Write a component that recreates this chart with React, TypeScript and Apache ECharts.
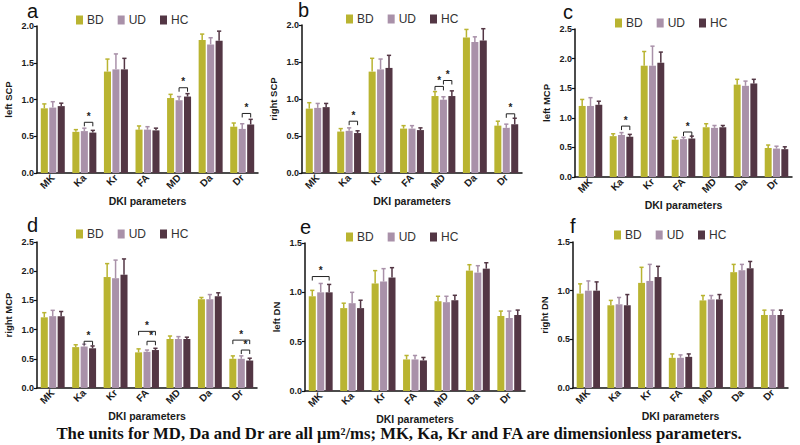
import React, { useEffect, useRef } from "react";
import * as echarts from "echarts";

const categories = ["MK", "Ka", "Kr", "FA", "MD", "Da", "Dr"];
const groups = ["BD", "UD", "HC"];
const yTicksMax = [2.0, 2.0, 2.5, 2.5, 1.5, 1.5];
const yNames = ["left SCP", "right SCP", "left MCP", "right MCP", "left DN", "right DN"];
const panelLetters = ["a", "b", "c", "d", "e", "f"];

// panel a: left SCP
const aBD = [0.88, 0.56, 1.38, 0.59, 1.02, 1.81, 0.63];
const aBDerr = [0.06, 0.03, 0.17, 0.05, 0.05, 0.08, 0.05];
const aUD = [0.89, 0.57, 1.41, 0.59, 0.99, 1.75, 0.6];
const aUDerr = [0.08, 0.04, 0.21, 0.04, 0.05, 0.09, 0.07];
const aHC = [0.91, 0.55, 1.41, 0.58, 1.04, 1.8, 0.66];
const aHCerr = [0.04, 0.03, 0.15, 0.03, 0.04, 0.13, 0.07];
const aSig = [[1, 1, 2, 0.69], [4, 1, 2, 1.16], [6, 1, 2, 0.81]];

// panel b: right SCP
const bBD = [0.87, 0.56, 1.37, 0.6, 1.04, 1.83, 0.64];
const bBDerr = [0.08, 0.04, 0.18, 0.04, 0.06, 0.11, 0.06];
const bUD = [0.88, 0.57, 1.4, 0.6, 0.99, 1.77, 0.61];
const bUDerr = [0.06, 0.04, 0.14, 0.04, 0.04, 0.07, 0.05];
const bHC = [0.89, 0.54, 1.42, 0.58, 1.04, 1.79, 0.66];
const bHCerr = [0.05, 0.03, 0.17, 0.03, 0.07, 0.16, 0.08];
const bSig = [[1, 1, 2, 0.7], [4, 0, 1, 1.17], [4, 1, 2, 1.25], [6, 1, 2, 0.8]];

// panel c: left MCP
const cBD = [1.2, 0.69, 1.88, 0.63, 0.84, 1.56, 0.49];
const cBDerr = [0.11, 0.04, 0.24, 0.04, 0.06, 0.09, 0.05];
const cUD = [1.2, 0.71, 1.88, 0.64, 0.83, 1.54, 0.48];
const cUDerr = [0.14, 0.04, 0.33, 0.03, 0.04, 0.08, 0.04];
const cHC = [1.22, 0.68, 1.93, 0.65, 0.84, 1.58, 0.47];
const cHCerr = [0.06, 0.04, 0.18, 0.04, 0.03, 0.07, 0.04];
const cSig = [[1, 1, 2, 0.86], [3, 1, 2, 0.76]];

// panel d: right MCP
const dBD = [1.21, 0.7, 1.9, 0.61, 0.84, 1.52, 0.5];
const dBDerr = [0.08, 0.04, 0.23, 0.06, 0.05, 0.03, 0.05];
const dUD = [1.23, 0.71, 1.88, 0.62, 0.84, 1.52, 0.5];
const dUDerr = [0.1, 0.04, 0.31, 0.03, 0.04, 0.08, 0.05];
const dHC = [1.23, 0.68, 1.94, 0.65, 0.84, 1.57, 0.47];
const dHCerr = [0.08, 0.04, 0.27, 0.03, 0.03, 0.06, 0.04];
const dSig = [[1, 1, 2, 0.8], [3, 0, 2, 0.97], [3, 1, 2, 0.8], [6, 0, 2, 0.82], [6, 1, 2, 0.65]];

// panel e: left DN
const eBD = [0.96, 0.84, 1.09, 0.32, 0.91, 1.22, 0.76];
const eBDerr = [0.06, 0.05, 0.13, 0.04, 0.05, 0.06, 0.05];
const eUD = [1.0, 0.89, 1.11, 0.32, 0.9, 1.2, 0.74];
const eUDerr = [0.09, 0.11, 0.13, 0.04, 0.06, 0.07, 0.07];
const eHC = [1.0, 0.84, 1.15, 0.31, 0.92, 1.24, 0.77];
const eHCerr = [0.08, 0.08, 0.1, 0.03, 0.05, 0.06, 0.05];
const eSig = [[0, 0, 2, 1.16]];

// panel f: right DN
const fBD = [0.97, 0.85, 1.08, 0.31, 0.9, 1.19, 0.75];
const fBDerr = [0.1, 0.05, 0.16, 0.04, 0.05, 0.08, 0.05];
const fUD = [1.0, 0.86, 1.1, 0.31, 0.91, 1.21, 0.75];
const fUDerr = [0.1, 0.07, 0.17, 0.03, 0.04, 0.06, 0.05];
const fHC = [1.0, 0.85, 1.14, 0.32, 0.91, 1.23, 0.75];
const fHCerr = [0.09, 0.11, 0.11, 0.03, 0.05, 0.07, 0.05];
const fSig: number[][] = [];

const caption =
  "The units for MD, Da and Dr are all \u03bcm\u00b2/ms; MK, Ka, Kr and FA are dimensionless parameters.";

const COLORS = ["#b9b431", "#a991a9", "#533644"];
const CAT_GAP = 0.24;
const BAR_GAP = 0.2;
const FONT = "'Liberation Sans', Arial, sans-serif";

const panels = [
  { vals: [aBD, aUD, aHC], errs: [aBDerr, aUDerr, aHCerr], sig: aSig },
  { vals: [bBD, bUD, bHC], errs: [bBDerr, bUDerr, bHCerr], sig: bSig },
  { vals: [cBD, cUD, cHC], errs: [cBDerr, cUDerr, cHCerr], sig: cSig },
  { vals: [dBD, dUD, dHC], errs: [dBDerr, dUDerr, dHCerr], sig: dSig },
  { vals: [eBD, eUD, eHC], errs: [eBDerr, eUDerr, eHCerr], sig: eSig },
  { vals: [fBD, fUD, fHC], errs: [fBDerr, fUDerr, fHCerr], sig: fSig },
];

// layout (pixels)
const gridBoxes = [
  { left: 37, top: 26, width: 221, height: 147 },
  { left: 302, top: 25, width: 220, height: 148 },
  { left: 575, top: 29, width: 217, height: 148 },
  { left: 37, top: 242, width: 220, height: 146 },
  { left: 305, top: 243, width: 220, height: 148 },
  { left: 573, top: 242, width: 215, height: 146 },
];
const legendPos = [
  { left: 71, top: 9 },
  { left: 341, top: 8 },
  { left: 610, top: 12 },
  { left: 71, top: 223 },
  { left: 341, top: 226 },
  { left: 609, top: 224 },
];
const letterPos = [
  { x: 27, y: 13 },
  { x: 298, y: 12 },
  { x: 563, y: 14 },
  { x: 27, y: 227 },
  { x: 300, y: 229 },
  { x: 570, y: 228 },
];

function barGeom(api: any) {
  const band = api.size([1, 0])[0];
  const w = (band * (1 - CAT_GAP)) / (3 + 2 * BAR_GAP);
  return { w, step: w * (1 + BAR_GAP) };
}

export default function App() {
  const ref = useRef<HTMLDivElement>(null);
  useEffect(() => {
    document.body.style.margin = "0";
    const chart = echarts.init(ref.current!, null, { renderer: "svg" });
    const grid: any[] = [];
    const xAxis: any[] = [];
    const yAxis: any[] = [];
    const series: any[] = [];
    const legend: any[] = [];
    const graphic: any[] = [];

    panels.forEach((p, i) => {
      grid.push({ ...gridBoxes[i], containLabel: false });
      xAxis.push({
        type: "category",
        gridIndex: i,
        data: categories,
        name: "DKI parameters",
        nameLocation: "middle",
        nameGap: 22,
        nameTextStyle: { fontFamily: FONT, fontWeight: "bold", fontSize: 10.5, color: "#1a1a1a" },
        axisLine: { lineStyle: { color: "#111", width: 1.5 } },
        axisTick: { alignWithLabel: true, length: 3, lineStyle: { color: "#111", width: 1.2 } },
        axisLabel: {
          show: true,
          rotate: 45,
          interval: 0,
          fontWeight: "bold",
          fontSize: 10,
          fontFamily: FONT,
          color: "#1a1a1a",
          margin: 3,
        },
        splitLine: { show: false },
      });
      yAxis.push({
        type: "value",
        gridIndex: i,
        min: 0,
        max: yTicksMax[i],
        interval: 0.5,
        name: yNames[i],
        nameLocation: "middle",
        nameGap: 24,
        nameTextStyle: { fontFamily: FONT, fontWeight: "bold", fontSize: 9.5, color: "#1a1a1a" },
        axisLine: { show: true, lineStyle: { color: "#111", width: 1.5 } },
        axisTick: { show: true, length: 3, lineStyle: { color: "#111", width: 1.2 } },
        axisLabel: {
          fontFamily: FONT,
          fontWeight: "bold",
          fontSize: 9,
          color: "#1a1a1a",
          margin: 3,
          formatter: (v: number) => v.toFixed(1),
        },
        splitLine: { show: false },
      });
      groups.forEach((g, gi) => {
        series.push({
          type: "bar",
          name: g,
          xAxisIndex: i,
          yAxisIndex: i,
          data: p.vals[gi],
          barCategoryGap: CAT_GAP * 100 + "%",
          barGap: BAR_GAP * 100 + "%",
          itemStyle: { color: COLORS[gi] },
          z: 2,
        });
      });
      const errData: number[][] = [];
      groups.forEach((g, gi) => {
        p.vals[gi].forEach((v, ci) => errData.push([ci, gi, v, p.errs[gi][ci]]));
      });
      series.push({
        type: "custom",
        xAxisIndex: i,
        yAxisIndex: i,
        data: errData,
        encode: { x: 0, y: 2 },
        z: 3,
        silent: true,
        renderItem: (params: any, api: any) => {
          const cat = api.value(0);
          const gi = api.value(1);
          const v = api.value(2);
          const e = api.value(3);
          const { w, step } = barGeom(api);
          const p0 = api.coord([cat, v]);
          const p1 = api.coord([cat, v + e]);
          const x = p0[0] + (gi - 1) * step;
          const cap = w * 0.6;
          const st = { stroke: COLORS[gi], lineWidth: 1.5 };
          return {
            type: "group",
            children: [
              { type: "line", shape: { x1: x, y1: p0[1], x2: x, y2: p1[1] }, style: st },
              { type: "line", shape: { x1: x - cap / 2, y1: p1[1], x2: x + cap / 2, y2: p1[1] }, style: st },
            ],
          };
        },
      });
      if (p.sig.length) {
        series.push({
          type: "custom",
          xAxisIndex: i,
          yAxisIndex: i,
          data: p.sig,
          encode: { x: 0, y: 3 },
          z: 4,
          silent: true,
          renderItem: (params: any, api: any) => {
            const cat = api.value(0);
            const from = api.value(1);
            const to = api.value(2);
            const lvl = api.value(3);
            const { step } = barGeom(api);
            const c = api.coord([cat, lvl]);
            const xa = c[0] + (from - 1) * step;
            const xb = c[0] + (to - 1) * step;
            const y = c[1];
            const st = { stroke: "#222", lineWidth: 1, fill: "none" };
            return {
              type: "group",
              children: [
                {
                  type: "polyline",
                  shape: { points: [[xa, y + 4], [xa, y], [xb, y], [xb, y + 4]] },
                  style: st,
                },
                {
                  type: "text",
                  style: {
                    text: "*",
                    x: (xa + xb) / 2,
                    y: y - 1,
                    align: "center",
                    verticalAlign: "bottom",
                    font: "bold 10px " + FONT,
                    fill: "#222",
                  },
                },
              ],
            };
          },
        });
      }
      legend.push({
        ...legendPos[i],
        data: groups,
        icon: "rect",
        itemWidth: 7,
        itemHeight: 9,
        itemGap: 14,
        selectedMode: false,
        textStyle: { fontFamily: FONT, fontSize: 12, color: "#333", padding: [0, 0, 0, -1] },
      });
      graphic.push({
        type: "text",
        left: letterPos[i].x,
        top: letterPos[i].y - 12,
        style: { text: panelLetters[i], font: "20px " + FONT, fill: "#111" },
      });
    });

    graphic.push({
      type: "text",
      left: "center",
      top: 425,
      style: {
        text: caption,
        font: "bold 16.7px 'Liberation Serif', 'Times New Roman', serif",
        fill: "#111",
      },
    });

    chart.setOption({
      animation: false,
      backgroundColor: "#fff",
      grid,
      xAxis,
      yAxis,
      series,
      legend,
      graphic,
    });
    return () => chart.dispose();
  }, []);
  return <div ref={ref} style={{ width: 800, height: 445 }} />;
}
